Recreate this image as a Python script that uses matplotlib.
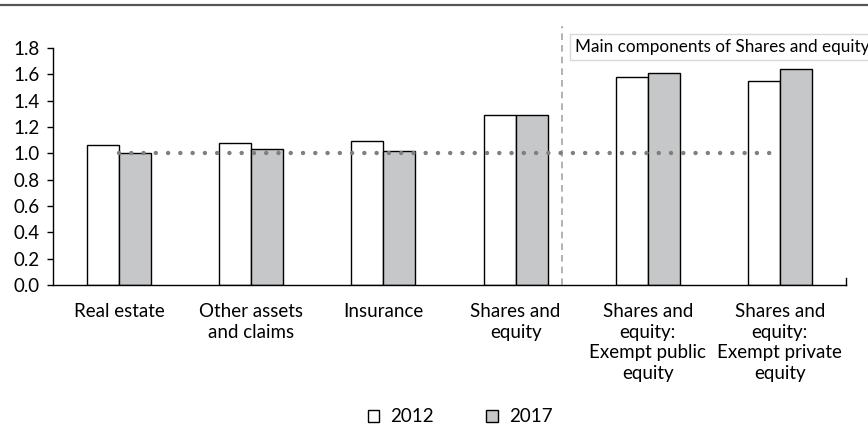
import matplotlib.pyplot as plt
from matplotlib.patches import Patch
from matplotlib.lines import Line2D
import numpy as np

# Дані
categories = ['Real estate', 'Other assets\nand claims', 'Insurance', 'Shares and\nequity',
              'Shares and\nequity:\nExempt public\nequity', 'Shares and\nequity:\nExempt private\nequity']
values_2012 = [1.06, 1.08, 1.09, 1.29, 1.58, 1.55]
values_2017 = [1.00, 1.03, 1.02, 1.29, 1.61, 1.64]
reference = [1.0, 1.0, 1.0, 1.0, 1.0, 1.0]
yticks = [0.0, 0.2, 0.4, 0.6, 0.8, 1.0, 1.2, 1.4, 1.6, 1.8]

plt.rcParams['font.family'] = ['Lato', 'DejaVu Sans']
plt.rcParams['font.size'] = 13.5

fig = plt.figure(figsize=(8.68, 4.46), dpi=100)
ax = fig.add_axes([53 / 868, 161 / 446, 793 / 868, 237 / 446])

x = np.arange(len(categories))
w = 0.242
ax.bar(x - w / 2, values_2012, w, color='white', edgecolor='black', linewidth=1.0, zorder=2)
ax.bar(x + w / 2, values_2017, w, color='#c6c7c9', edgecolor='black', linewidth=1.0, zorder=2)

# лінія на рівні 1.0
ax.plot(x[:-1].tolist() + [x[-1] - 0.07], reference, color='#7f7f7f', linewidth=3.2,
        dashes=(0.01, 2.75), dash_capstyle='round', zorder=3)

# розділювач
ax.axvline(3.35, ymin=0, ymax=1.093, color='#a6a6a6', linewidth=1.2,
           dashes=(4, 3), clip_on=False, zorder=1)

ax.set_xlim(-0.5, 5.5)
ax.set_ylim(0, 1.8)
ax.set_yticks(yticks)
ax.set_yticklabels([f'{v:.1f}' for v in yticks])
ax.set_xticks(x)
ax.set_xticklabels(categories, linespacing=1.25)
ax.tick_params(axis='x', length=0, pad=13)
ax.tick_params(axis='y', length=4.5, width=1, pad=5)
ax.spines['top'].set_visible(False)
ax.spines['right'].set_visible(False)
for s in ['left', 'bottom']:
    ax.spines[s].set_linewidth(1.0)

# маленька риска справа
ax.plot([5.5, 5.5], [0, 0.055], color='black', linewidth=1.0, clip_on=False)

fig.text(575 / 868, 1 - 47 / 446, 'Main components of Shares and equity', ha='left', va='center',
         fontsize=12.3, bbox=dict(boxstyle='square,pad=0.3', fc='white', ec='#d9d9d9', lw=1))

fig.add_artist(Line2D([0, 1], [1 - 4.5 / 446, 1 - 4.5 / 446], color='#555555', linewidth=1.6))

handles = [Patch(facecolor='white', edgecolor='black', label='2012'),
           Patch(facecolor='#c6c7c9', edgecolor='black', label='2017')]
fig.legend(handles=handles, loc='center', bbox_to_anchor=(460 / 868, 1 - 417 / 446), ncol=2,
           frameon=False, handlelength=0.6, handleheight=0.6, handletextpad=0.6,
           columnspacing=2.8, fontsize=13.5)

fig.savefig('out.png', dpi=100)
